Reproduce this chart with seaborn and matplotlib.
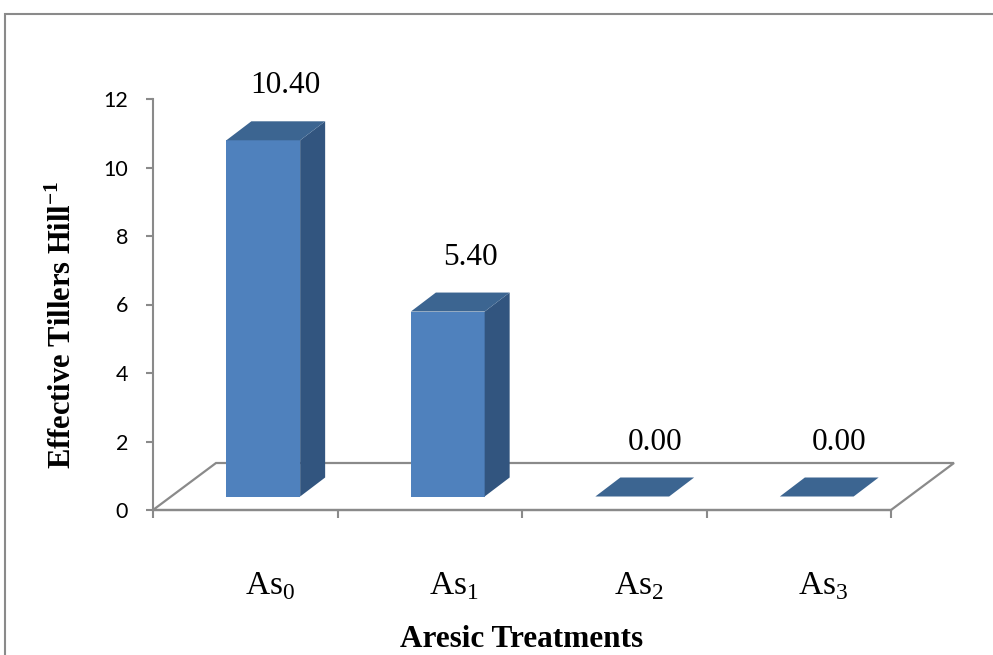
import matplotlib
matplotlib.use("Agg")
import matplotlib.pyplot as plt
import seaborn as sns
import pandas as pd
from matplotlib.patches import Polygon, Rectangle
from matplotlib.transforms import ScaledTranslation

# ---- data ----
categories = ["As0", "As1", "As2", "As3"]
category_labels = ["As$_0$", "As$_1$", "As$_2$", "As$_3$"]
values = [10.40, 5.40, 0.00, 0.00]
value_labels = ["10.40", "5.40", "0.00", "0.00"]
y_ticks = [0, 2, 4, 6, 8, 10, 12]
x_title = "Aresic Treatments"
y_title = "Effective Tillers Hill$^{\\mathbf{-1}}$"

sns.set_theme(style="white")
plt.rcParams["font.family"] = ["Liberation Serif", "DejaVu Serif"]
plt.rcParams["mathtext.fontset"] = "custom"
plt.rcParams["mathtext.rm"] = "Liberation Serif"
plt.rcParams["mathtext.bf"] = "Liberation Serif:bold"
plt.rcParams["text.color"] = "black"
plt.rcParams["axes.labelcolor"] = "black"
plt.rcParams["xtick.labelcolor"] = "black"
plt.rcParams["ytick.labelcolor"] = "black"

FRONT = "#4F81BD"
SIDE = "#32557F"
TOP = "#3C6591"
GREY = "#8A8A8A"

W, H, DPI = 993, 655, 100
fig = plt.figure(figsize=(W / DPI, H / DPI), dpi=DPI)
fig.patch.set_facecolor("white")

# outer chart border
fig.add_artist(Rectangle((5 / W, -0.05), 1.2, (H - 14) / H + 0.05,
                         transform=fig.transFigure, fill=False,
                         edgecolor=GREY, linewidth=1.5))

L, R, T, B = 153, 891, 99, 510
ax = fig.add_axes([L / W, (H - B) / H, (R - L) / W, (B - T) / H])
ax.set_facecolor("none")

df = pd.DataFrame({"cat": categories, "val": values})
sns.barplot(data=df, x="cat", y="val", color=FRONT, width=0.40,
            saturation=1, ax=ax, zorder=3, linewidth=0)

ax.set_xlim(-0.5, len(categories) - 0.5)
ax.set_ylim(y_ticks[0], y_ticks[-1])

# pixel -> data scale
sx = (len(categories)) / (R - L)
sy = (y_ticks[-1] - y_ticks[0]) / (B - T)

# floor (depth vector in px)
fdx, fdy = 63 * sx, 47 * sy
x0f, x1f = -0.5, len(categories) - 0.5
floor = Polygon([(x0f, 0), (x1f, 0), (x1f + fdx, fdy), (x0f + fdx, fdy)],
                closed=True, fill=False, edgecolor=GREY, linewidth=1.6,
                clip_on=False, zorder=1)
ax.add_patch(floor)

# 3D bars: shift front faces, add side + top faces
offx, offy = 18 * sx, 13.5 * sy
ddx, ddy = 25 * sx, 19 * sy
bars = list(ax.patches)[:len(categories)]
for p, lab in zip(bars, value_labels):
    p.set_x(p.get_x() + offx)
    p.set_y(p.get_y() + offy)
    p.set_clip_on(False)
    x0, y0, w, h = p.get_x(), p.get_y(), p.get_width(), p.get_height()
    if h > 0:
        side = Polygon([(x0 + w, y0), (x0 + w + ddx, y0 + ddy),
                        (x0 + w + ddx, y0 + h + ddy), (x0 + w, y0 + h)],
                       closed=True, facecolor=SIDE, edgecolor="none",
                       clip_on=False, zorder=3)
        ax.add_patch(side)
    top = Polygon([(x0, y0 + h), (x0 + w, y0 + h),
                   (x0 + w + ddx, y0 + h + ddy), (x0 + ddx, y0 + h + ddy)],
                  closed=True, facecolor=TOP, edgecolor="none",
                  clip_on=False, zorder=4)
    ax.add_patch(top)
    ax.text(x0 + w / 2 + ddx / 2 + 10 * sx, y0 + h + ddy + 28 * sy, lab,
            ha="center", va="baseline", fontsize=22.5, color="black",
            clip_on=False)

# spines
for s in ["top", "right"]:
    ax.spines[s].set_visible(False)
ax.spines["left"].set_color(GREY)
ax.spines["left"].set_linewidth(1.5)
ax.spines["bottom"].set_color(GREY)
ax.spines["bottom"].set_linewidth(1.6)

# y axis
ax.set_yticks(y_ticks)
ax.set_yticklabels([str(t) for t in y_ticks])
ax.tick_params(axis="y", direction="out", length=5, width=1.5,
               color=GREY, labelsize=15.5, pad=13, left=True,
               labelcolor="black")
for t in ax.get_yticklabels():
    t.set_fontfamily("Lato")

# x axis: boundary ticks, category labels offset into depth
ax.set_xticks([i - 0.5 for i in range(len(categories) + 1)])
ax.set_xticklabels([""] * (len(categories) + 1))
ax.tick_params(axis="x", direction="out", length=5.5, width=1.5,
               color=GREY, bottom=True)
shift = ScaledTranslation(24.5 / DPI, -84 / DPI, fig.dpi_scale_trans)
for i, lab in enumerate(category_labels):
    ax.text(i, 0, lab, transform=ax.transData + shift, ha="center",
            va="baseline", fontsize=24, color="black", clip_on=False)

ax.set_xlabel(x_title, fontsize=22.5, fontweight="bold", color="black")
ax.xaxis.set_label_coords(0.5, (B - 647) / (B - T))
ax.xaxis.label.set_verticalalignment("baseline")

ax.set_ylabel(y_title, fontsize=22, fontweight="bold", color="black")
ax.yaxis.set_label_coords((63 - L) / (R - L), (B - 325) / (B - T))
ax.yaxis.label.set_verticalalignment("center")

fig.savefig("out.png", dpi=DPI, facecolor="white")
